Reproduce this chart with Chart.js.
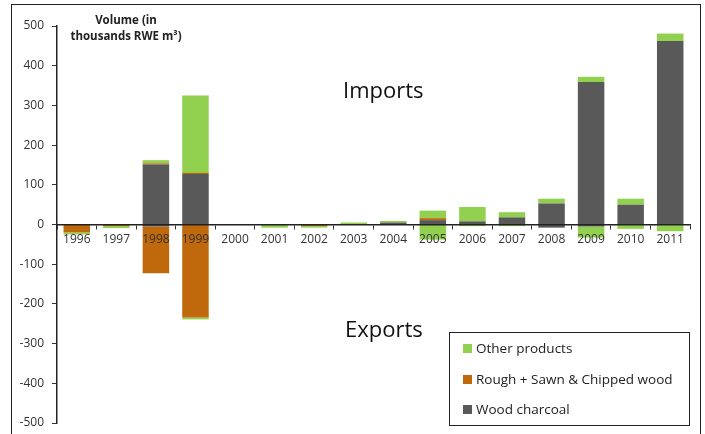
<!DOCTYPE html>
<html>
<head>
<meta charset="utf-8">
<script src="https://cdn.jsdelivr.net/npm/chart.js@4"></script>
<style>
  html, body { margin: 0; padding: 0; background: #fff; }
  #wrap { position: relative; width: 705px; height: 434px; overflow: hidden; }
  canvas { position: absolute; left: 0; top: 0; }
  .frame { position: absolute; left: 11px; top: 4px; width: 690px; height: 460px; border: 1.5px solid #222; box-sizing: border-box; }
  .ytitle { position: absolute; left: 60px; top: 12px; width: 132px; text-align: center; font: bold 11.5px/16px "Open Sans", sans-serif; color: #222; }
  .big { position: absolute; font: 22px/22px "Open Sans", sans-serif; color: #111; white-space: nowrap; }
  .legend { position: absolute; left: 449px; top: 332px; width: 241px; height: 94px; border: 1.5px solid #222; box-sizing: border-box; background: #fff; }
  .item { position: absolute; left: 13px; height: 16px; font: 13.5px/16px "Open Sans", sans-serif; color: #222; white-space: nowrap; }
  .sw { display: inline-block; width: 9px; height: 9px; margin-right: 4px; vertical-align: 0px; }
</style>
</head>
<body>
<div id="wrap">
  <canvas id="c" width="705" height="434"></canvas>
  <div class="frame"></div>
  <div class="ytitle">Volume (in<br>thousands RWE m³)</div>
  <div class="big" style="left:343px; top:78px;">Imports</div>
  <div class="big" style="left:345px; top:317px;">Exports</div>
  <div class="legend" id="legend"></div>
</div>
<script>
const years = ['1996','1997','1998','1999','2000','2001','2002','2003','2004','2005','2006','2007','2008','2009','2010','2011'];
const seriesNames = ['Wood charcoal', 'Rough + Sawn & Chipped wood', 'Other products'];
const charcoalImports = [0, 0, 151, 127, 0, 0, 0, 1, 5, 11, 8, 18, 53, 359, 50, 462];
const charcoalExports = [0, 0, -5, 0, 0, 0, 0, 0, 0, 0, 0, 0, -8, -5, 0, 0];
const roughImports    = [0, 0, 3, 3, 0, 0, 0, 0, 0, 5, 0, 0, 0, 0, 0, 0];
const roughExports    = [-20, -4, -118, -234, 0, 0, -4, 0, 0, 0, 0, 0, 0, 0, 0, 0];
const otherImports    = [0, 0, 8, 195, 0, 0, 0, 4, 4, 19, 36, 13, 12, 13, 15, 19];
const otherExports    = [-5, -5, 0, -5, 0, -8, -4, 0, 0, -38, -4, -4, 0, -28, -11, -17];
const yTicks = [-500, -400, -300, -200, -100, 0, 100, 200, 300, 400, 500];

const colors = { charcoal: '#595959', rough: '#c0680c', other: '#92d050' };

function ds(label, data, color) {
  return { label, data, backgroundColor: color, borderWidth: 0, stack: 's',
           barPercentage: 0.67, categoryPercentage: 1.0 };
}

const datasets = [
  ds(seriesNames[0], charcoalImports, colors.charcoal),
  ds(seriesNames[0], charcoalExports, colors.charcoal),
  ds(seriesNames[1], roughImports, colors.rough),
  ds(seriesNames[1], roughExports, colors.rough),
  ds(seriesNames[2], otherImports, colors.other),
  ds(seriesNames[2], otherExports, colors.other)
];

const tickFont = { family: 'Open Sans', size: 12 };

new Chart(document.getElementById('c'), {
  type: 'bar',
  data: { labels: years, datasets },
  options: {
    responsive: false,
    animation: false,
    layout: { padding: { left: 0, top: 26, right: 15, bottom: 11 } },
    plugins: { legend: { display: false }, tooltip: { enabled: false } },
    scales: {
      x: {
        stacked: true,
        position: { y: 0 },
        offset: true,
        grid: { offset: true, drawOnChartArea: false, drawTicks: true, tickLength: 4, color: '#333', lineWidth: 1, z: 1 },
        border: { display: true, color: '#222', width: 1.5, z: 1 },
        ticks: { padding: 4, color: '#333', font: tickFont, maxRotation: 0, autoSkip: false, z: 1 }
      },
      y: {
        stacked: true,
        min: yTicks[0],
        max: yTicks[yTicks.length - 1],
        afterBuildTicks: (s) => { s.ticks = yTicks.map(v => ({ value: v })); },
        afterFit: (s) => { s.width = 57; s.paddingTop = 0; s.paddingBottom = 0; },
        grid: { drawOnChartArea: false, drawTicks: true, tickLength: 5, color: '#333' },
        border: { display: true, color: '#222', width: 1.5 },
        ticks: { padding: 8, color: '#333', font: tickFont }
      }
    }
  }
});

// Legend (order as in the reference)
const legendOrder = [
  { name: seriesNames[2], color: colors.other },
  { name: seriesNames[1], color: colors.rough },
  { name: seriesNames[0], color: colors.charcoal }
];
const lg = document.getElementById('legend');
const rowTops = [7, 38, 68];
legendOrder.forEach((it, i) => {
  const d = document.createElement('div');
  d.className = 'item';
  d.style.top = rowTops[i] + 'px';
  const sw = document.createElement('span');
  sw.className = 'sw';
  sw.style.background = it.color;
  d.appendChild(sw);
  d.appendChild(document.createTextNode(it.name));
  lg.appendChild(d);
});
</script>
</body>
</html>
